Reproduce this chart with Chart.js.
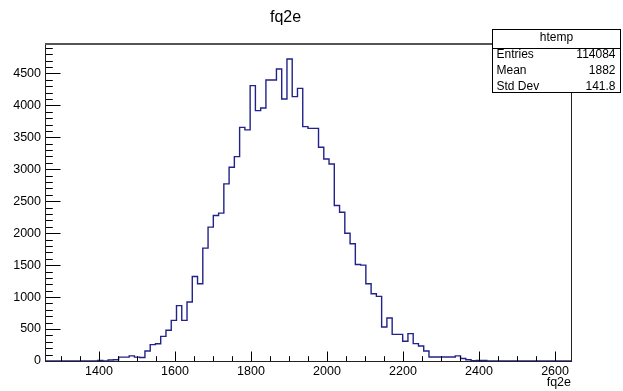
<!DOCTYPE html>
<html>
<head>
<meta charset="utf-8">
<script src="https://cdn.jsdelivr.net/npm/chart.js@4"></script>
<style>
  html, body { margin: 0; padding: 0; background: #fff; }
</style>
</head>
<body>
<canvas id="hist" width="623" height="391"></canvas>
<script>
// fq2e histogram, 100 bins
const xMin = 1258;
const xMax = 2642;
const yMax = 4960;
const binCounts = [
  0, 0, 0, 0, 0, 0, 0, 0, 0, 0,
  10, 0, 15, 20, 60, 60, 80, 60, 55, 156,
  256, 270, 386, 480, 636, 866, 636, 922, 1323, 1209,
  1766, 2094, 2277, 2313, 2772, 3031, 3198, 3656, 3616, 4308,
  3917, 3958, 4397, 4397, 4569, 4100, 4725, 4136, 4266, 3667,
  3640, 3640, 3344, 3161, 3083, 2432, 2328, 2000, 1834, 1511,
  1500, 1209, 1053, 1011, 531, 672, 417, 417, 308, 428,
  272, 234, 156, 63, 63, 63, 63, 63, 80, 40,
  20, 5, 10, 10, 0, 0, 0, 0, 0, 0,
  0, 0, 0, 0, 0, 0, 0, 0, 0, 0
];
const xTickLabels = [1400, 1600, 1800, 2000, 2200, 2400, 2600];
const yTickLabels = [0, 500, 1000, 1500, 2000, 2500, 3000, 3500, 4000, 4500];
const xMinorStep = 50;
const yMinorStep = 100;
const statsTitle = "htemp";
const statsNames = ["Entries", "Mean", "Std Dev"];
const statsValues = ["114084", "1882", "141.8"];

const FONT = '"Liberation Sans", Arial, Helvetica, sans-serif';
const binWidth = (xMax - xMin) / binCounts.length;

// step outline: each point holds its value up to the next bin edge
const outline = binCounts.map((c, i) => ({ x: xMin + i * binWidth, y: c }));
outline.push({ x: xMax, y: binCounts[binCounts.length - 1] });

const frameAndStats = {
  id: "frameAndStats",
  afterDraw(chart) {
    const ctx = chart.ctx;
    const { left, right, top, bottom } = chart.chartArea;
    const xs = chart.scales.x;
    const ys = chart.scales.y;
    ctx.save();

    // tick marks drawn inward, ROOT style
    ctx.strokeStyle = "#000";
    ctx.lineWidth = 1;
    ctx.beginPath();
    for (let v = Math.ceil(xMin / xMinorStep) * xMinorStep; v <= xMax; v += xMinorStep) {
      const px = Math.round(xs.getPixelForValue(v)) + 0.5;
      const len = v % 200 === 0 ? 9.5 : 4.8;
      ctx.moveTo(px, bottom);
      ctx.lineTo(px, bottom - len);
    }
    for (let v = 0; v <= yMax; v += yMinorStep) {
      const py = Math.round(ys.getPixelForValue(v)) + 0.5;
      const len = v % 500 === 0 ? 15.5 : 7.8;
      ctx.moveTo(left, py);
      ctx.lineTo(left + len, py);
    }
    ctx.stroke();

    // frame
    ctx.lineWidth = 1;
    ctx.strokeStyle = "#222";
    ctx.strokeRect(Math.round(left) + 0.5, Math.round(top) + 0.5,
      Math.round(right - left), Math.round(bottom - top));
    ctx.strokeStyle = "#555";
    ctx.lineWidth = 2;
    ctx.beginPath();
    ctx.moveTo(left, Math.round(top));
    ctx.lineTo(right, Math.round(top));
    ctx.stroke();

    // statistics box
    const bx = 492.5, by = 29.5, bw = 128, bh = 63;
    ctx.fillStyle = "#fff";
    ctx.fillRect(bx, by, bw, bh);
    ctx.strokeStyle = "#000";
    ctx.lineWidth = 1;
    ctx.strokeRect(bx, by, bw, bh);
    ctx.beginPath();
    ctx.moveTo(bx, 48.5);
    ctx.lineTo(bx + bw, 48.5);
    ctx.stroke();

    ctx.fillStyle = "#000";
    ctx.font = "12px " + FONT;
    ctx.textBaseline = "middle";
    ctx.textAlign = "center";
    ctx.fillText(statsTitle, bx + bw / 2, 38);
    const rowY = [55, 71, 87];
    statsNames.forEach((name, i) => {
      ctx.textAlign = "left";
      ctx.fillText(name, 496.5, rowY[i]);
      ctx.textAlign = "right";
      ctx.fillText(statsValues[i], 615.5, rowY[i]);
    });
    ctx.restore();
  }
};

new Chart(document.getElementById("hist"), {
  type: "line",
  data: {
    datasets: [{
      label: "htemp",
      data: outline,
      stepped: "before",
      borderColor: "#22228a",
      borderWidth: 1.4,
      pointRadius: 0,
      fill: false,
      tension: 0
    }]
  },
  options: {
    responsive: false,
    animation: false,
    devicePixelRatio: 1,
    layout: { padding: { left: 0, right: 52, top: 0, bottom: 0 } },
    plugins: {
      legend: { display: false },
      tooltip: { enabled: false },
      title: {
        display: true,
        text: "fq2e",
        color: "#000",
        font: { family: FONT, size: 16, weight: "normal" },
        padding: { top: 8, bottom: 16.8 }
      }
    },
    scales: {
      x: {
        type: "linear",
        min: xMin,
        max: xMax,
        grid: { display: false, drawTicks: false },
        border: { display: false },
        ticks: {
          color: "#000",
          font: { family: FONT, size: 12.5 },
          padding: 3,
          maxRotation: 0,
          autoSkip: false,
          callback: v => String(v)
        },
        afterBuildTicks: s => { s.ticks = xTickLabels.map(v => ({ value: v })); },
        afterFit: s => { s.height = 30; },
        title: {
          display: true,
          text: "fq2e",
          align: "end",
          color: "#000",
          font: { family: FONT, size: 12.5 },
          padding: { top: 0, bottom: 1 }
        }
      },
      y: {
        type: "linear",
        min: 0,
        max: yMax,
        grid: { display: false, drawTicks: false },
        border: { display: false },
        ticks: {
          color: "#000",
          font: { family: FONT, size: 12.5 },
          padding: 4,
          autoSkip: false,
          callback: v => String(v)
        },
        afterBuildTicks: s => { s.ticks = yTickLabels.map(v => ({ value: v })); },
        afterFit: s => { s.width = 45; }
      }
    }
  },
  plugins: [frameAndStats]
});
</script>
</body>
</html>
